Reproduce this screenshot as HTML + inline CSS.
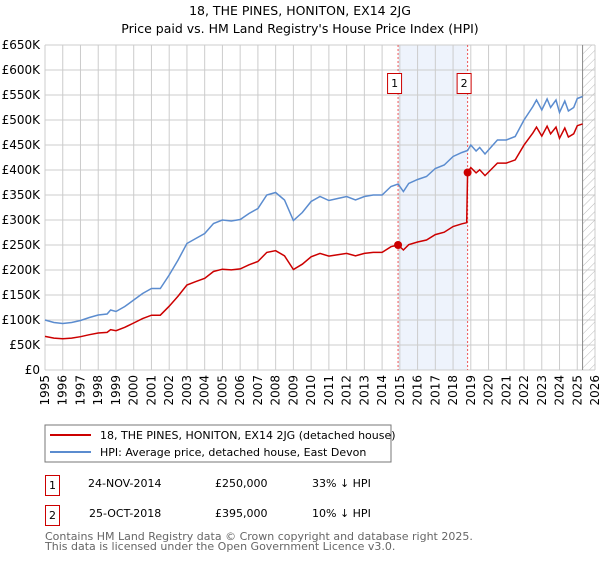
<!DOCTYPE html>
<html><head><meta charset="utf-8"><style>
body{margin:0;background:#fff;font-family:"DejaVu Sans","Liberation Sans",sans-serif;}
svg text{font-family:"DejaVu Sans","Liberation Sans",sans-serif;}
</style></head><body>
<svg id="c" width="600" height="560" xmlns="http://www.w3.org/2000/svg">
<defs><pattern id="hatch" width="6" height="6" patternUnits="userSpaceOnUse" patternTransform="rotate(45)"><line x1="0" y1="0" x2="0" y2="6" stroke="#bbb" stroke-width="1"/></pattern></defs>
<text x="300" y="15" text-anchor="middle" font-size="12.5" fill="#000">18, THE PINES, HONITON, EX14 2JG</text>
<text x="300" y="33" text-anchor="middle" font-size="12.5" fill="#000">Price paid vs. HM Land Registry's House Price Index (HPI)</text>
<g id="grid"></g><g id="marks"></g><g id="axes"></g>
<rect x="45" y="425" width="346" height="37" fill="#fff" stroke="#777"/>
<line x1="50" y1="435" x2="91" y2="435" stroke="#cc0000" stroke-width="2"/>
<text x="100" y="439" font-size="11">18, THE PINES, HONITON, EX14 2JG (detached house)</text>
<line x1="50" y1="452" x2="91" y2="452" stroke="#5b8ccf" stroke-width="2"/>
<text x="100" y="456" font-size="11">HPI: Average price, detached house, East Devon</text>
<rect x="45.5" y="475.5" width="14" height="20" fill="none" stroke="#cc0000"/>
<text x="52.5" y="489" text-anchor="middle" font-size="11">1</text>
<text x="88" y="487" font-size="11">24-NOV-2014</text>
<text x="215" y="487" font-size="11">£250,000</text>
<text x="312" y="487" font-size="11">33% ↓ HPI</text>
<rect x="45.5" y="505.5" width="14" height="20" fill="none" stroke="#cc0000"/>
<text x="52.5" y="519" text-anchor="middle" font-size="11">2</text>
<text x="89" y="517" font-size="11">25-OCT-2018</text>
<text x="215" y="517" font-size="11">£395,000</text>
<text x="312" y="517" font-size="11">10% ↓ HPI</text>
<text x="45" y="540" font-size="11" fill="#666">Contains HM Land Registry data © Crown copyright and database right 2025.</text>
<text x="45" y="550" font-size="11" fill="#666">This data is licensed under the Open Government Licence v3.0.</text>
</svg>
<script>
const hpiYears=[1995,1995.5,1996,1996.5,1997,1997.5,1998,1998.5,1998.7,1999,1999.5,2000,2000.5,2001,2001.5,2002,2002.5,2003,2003.5,2004,2004.5,2005,2005.5,2006,2006.5,2007,2007.5,2008,2008.5,2009,2009.5,2010,2010.5,2011,2011.5,2012,2012.5,2013,2013.5,2014,2014.5,2014.9,2015.2,2015.5,2016,2016.5,2017,2017.5,2018,2018.5,2018.82,2019,2019.3,2019.5,2019.8,2020,2020.5,2021,2021.5,2022,2022.5,2022.7,2023,2023.3,2023.5,2023.8,2024,2024.3,2024.5,2024.8,2025,2025.3];
const hpiValues=[100,95,93,95,99,105,110,112,120,117,127,140,153,163,163,190,220,253,263,273,293,300,298,301,313,323,350,355,340,299,315,337,347,339,343,347,340,347,350,350,367,372,357,373,381,387,403,410,427,435,439,450,438,445,432,440,460,460,467,500,527,540,520,542,525,540,515,538,518,525,543,547];
const saleYears=[2014.9,2018.82];
const salePrices=[250,395];
const saleLabels=["1","2"];
const yTicks=[0,50,100,150,200,250,300,350,400,450,500,550,600,650];
const yTickLabels=["£0","£50K","£100K","£150K","£200K","£250K","£300K","£350K","£400K","£450K","£500K","£550K","£600K","£650K"];
const xTicks=[1995,1996,1997,1998,1999,2000,2001,2002,2003,2004,2005,2006,2007,2008,2009,2010,2011,2012,2013,2014,2015,2016,2017,2018,2019,2020,2021,2022,2023,2024,2025,2026];
const dataEnd=2025.3;
const L=45,R=595,T=45,B=370,X0=1995,X1=2026,YMAX=650;
const xs=v=>L+(v-X0)/(X1-X0)*(R-L);
const ys=v=>B-v/YMAX*(B-T);
const NS="http://www.w3.org/2000/svg";
function mk(tag,attrs,parent){const e=document.createElementNS(NS,tag);for(const k in attrs)e.setAttribute(k,attrs[k]);parent.appendChild(e);return e;}
const grid=document.getElementById('grid'),marks=document.getElementById('marks'),axes=document.getElementById('axes');
const band=mk('rect',{x:xs(saleYears[0]),y:T,width:xs(saleYears[1])-xs(saleYears[0]),height:B-T,fill:'#eef3fc'},grid);


yTicks.forEach((t,i)=>{
 const g=mk('line',{x1:L,x2:R,y1:ys(t),y2:ys(t),stroke:'#ccc','stroke-width':1},grid);
 
 
 const tx=mk('text',{x:L-5,y:ys(t)+4,'text-anchor':'end','font-size':12},axes);
 tx.textContent=yTickLabels[i];
 
 
});
xTicks.forEach(t=>{
 const g=mk('line',{x1:xs(t),x2:xs(t),y1:T,y2:B,stroke:'#ccc','stroke-width':1},grid);
 
 
 const x=xs(t)+4,y=375;
 const tx=mk('text',{x:x,y:y,'text-anchor':'end','font-size':12,transform:'rotate(-90 '+x+' '+y+')'},axes);
 tx.textContent=String(t);
 
 
});
const hz=mk('rect',{x:xs(dataEnd),y:T,width:R-xs(dataEnd),height:B-T,fill:'url(#hatch)'},grid);


const hl=mk('line',{x1:xs(dataEnd),x2:xs(dataEnd),y1:T,y2:B,stroke:'#888','stroke-width':1},grid);


saleYears.forEach((s,i)=>{
 const l=mk('line',{x1:xs(s),x2:xs(s),y1:T,y2:B,stroke:'#ee5555','stroke-width':1,'stroke-dasharray':'2,2'},marks);
 
 
});
const hp=hpiYears.map((y,i)=>xs(y).toFixed(1)+','+ys(hpiValues[i]).toFixed(1)).join(' ');
const hline=mk('polyline',{points:hp,fill:'none',stroke:'#5b8ccf','stroke-width':1.5},marks);


function hpiAt(y){for(let i=1;i<hpiYears.length;i++){if(y<=hpiYears[i]){const f=(y-hpiYears[i-1])/(hpiYears[i]-hpiYears[i-1]);return hpiValues[i-1]+f*(hpiValues[i]-hpiValues[i-1]);}}return hpiValues[hpiValues.length-1];}
const f1=salePrices[0]/hpiAt(saleYears[0]),f2=salePrices[1]/hpiAt(saleYears[1]);
const pts=[];
hpiYears.forEach((y,i)=>{if(y<saleYears[1])pts.push([y,hpiValues[i]*f1]);});
pts.push([saleYears[1]-0.05,hpiAt(saleYears[1]-0.05)*f1]);
pts.push([saleYears[1],salePrices[1]]);
hpiYears.forEach((y,i)=>{if(y>saleYears[1])pts.push([y,hpiValues[i]*f2]);});
const pline=mk('polyline',{points:pts.map(p=>xs(p[0]).toFixed(1)+','+ys(p[1]).toFixed(1)).join(' '),fill:'none',stroke:'#cc0000','stroke-width':1.5},marks);


saleYears.forEach((s,i)=>{
 const c=mk('circle',{cx:xs(s),cy:ys(salePrices[i]),r:4,fill:'#cc0000'},marks);
 
 
 const r=mk('rect',{x:xs(s)-10.5,y:73.5,width:14,height:20,fill:'#fff',stroke:'#cc0000'},marks);
 
 
 const t=mk('text',{x:xs(s)-3.5,y:87,'text-anchor':'middle','font-size':11},marks);
 t.textContent=saleLabels[i];
 
 
});
</script>
</body></html>
